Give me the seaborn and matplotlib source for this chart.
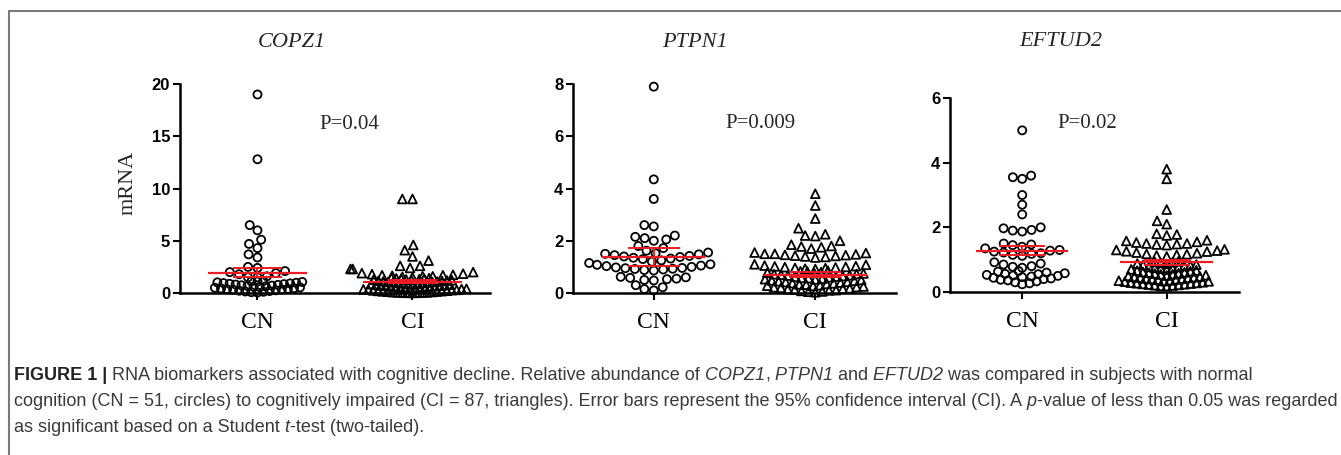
import numpy as np
import pandas as pd
import matplotlib
matplotlib.use('agg')
from matplotlib import pyplot as plt
from matplotlib.lines import Line2D
import seaborn as sns

genes = ['COPZ1', 'PTPN1', 'EFTUD2']
groups = ['CN', 'CI']
p_labels = ['P=0.04', 'P=0.009', 'P=0.02']
y_max = [20, 8, 6]
y_ticks = [[0, 5, 10, 15, 20], [0, 2, 4, 6, 8], [0, 2, 4, 6]]

# relative mRNA per subject (CN n=51, CI n=87)
copz1_cn = [19.0, 12.8, 6.5, 6.0, 5.1, 4.7, 4.3, 3.7, 3.4, 2.5, 2.4, 2.1, 2.0, 1.9, 1.8, 1.6, 1.5, 1.5,
            1.15, 1.12, 1.1, 1.06, 1.02, 0.98, 0.95, 0.92, 0.88, 0.85, 0.81, 0.78, 0.74, 0.71, 0.68,
            0.64, 0.6, 0.57, 0.54, 0.5, 0.46, 0.43, 0.4, 0.36, 0.33, 0.3, 0.26, 0.22, 0.19, 0.15,
            0.12, 0.08, 0.05]
copz1_ci = [9.0, 9.0, 4.6, 4.1, 3.5, 3.1, 2.6, 2.6, 2.4, 2.3, 2.3,
            2.0, 1.9, 1.85, 1.8, 1.75, 1.7, 1.7, 1.65, 1.6, 1.6, 1.55, 1.5,
            1.45, 1.42, 1.4, 1.38, 1.35, 1.32, 1.3, 1.28, 1.25, 1.22,
            1.2, 1.18, 1.15, 1.12, 1.1, 1.08, 1.05, 1.02, 1.0, 0.98,
            0.95, 0.92, 0.9, 0.88, 0.85, 0.82, 0.8, 0.78, 0.75, 0.72,
            0.7, 0.68, 0.65, 0.62, 0.6, 0.58, 0.55, 0.52, 0.5, 0.48,
            0.45, 0.42, 0.4, 0.38, 0.35, 0.32, 0.3, 0.28, 0.25, 0.22,
            0.2, 0.18, 0.16, 0.14, 0.12, 0.1, 0.08, 0.06, 0.05, 0.04,
            0.03, 0.02, 0.02, 0.01]
ptpn1_cn = [7.9, 4.35, 3.6, 2.6, 2.55, 2.2, 2.15, 2.1, 2.05, 2.0, 1.8, 1.72, 1.62,
            1.55, 1.52, 1.5, 1.48, 1.45, 1.42, 1.4, 1.38, 1.35, 1.32, 1.3,
            1.25, 1.2, 1.15,
            1.1, 1.08, 1.05, 1.03, 1.0, 0.98, 0.96, 0.95, 0.93, 0.92, 0.9, 0.88, 0.86,
            0.62, 0.6, 0.58, 0.55, 0.53, 0.5, 0.48,
            0.3, 0.22, 0.15, 0.1]
ptpn1_ci = [3.8, 3.35, 2.85, 2.48,
            2.25, 2.2, 2.18, 2.0,
            1.85, 1.8, 1.78, 1.75, 1.7,
            1.55, 1.53, 1.5, 1.5, 1.48, 1.46, 1.45, 1.43, 1.42, 1.4, 1.38, 1.36,
            1.1, 1.08, 1.05, 1.03, 1.02, 1.0, 0.99, 0.98, 0.96, 0.95, 0.93, 0.92,
            0.85, 0.83, 0.82, 0.8, 0.78, 0.77, 0.75, 0.73, 0.72, 0.7,
            0.68, 0.67, 0.65, 0.63, 0.62, 0.6, 0.58, 0.57, 0.55, 0.53,
            0.52, 0.5, 0.48, 0.47, 0.45, 0.43, 0.42, 0.4, 0.38, 0.37,
            0.35, 0.33, 0.32, 0.3, 0.28, 0.27, 0.25, 0.23, 0.22, 0.2,
            0.18, 0.16, 0.15, 0.13, 0.11, 0.1, 0.08, 0.06, 0.05, 0.03]
eftud2_cn = [5.0, 3.6, 3.55, 3.5, 3.0, 2.7, 2.4,
             2.0, 1.97, 1.92, 1.9, 1.87,
             1.5, 1.47, 1.45,
             1.4, 1.35, 1.3, 1.28, 1.25, 1.22, 1.2, 1.18, 1.15, 1.12,
             0.92, 0.88, 0.85, 0.8, 0.78, 0.75,
             0.65, 0.63, 0.6, 0.58, 0.56, 0.55, 0.53, 0.51, 0.5, 0.48,
             0.46, 0.44, 0.42, 0.4, 0.38, 0.36, 0.33, 0.3, 0.27, 0.24]
eftud2_ci = [3.8, 3.5, 2.55, 2.2, 2.1,
             1.8, 1.78, 1.75,
             1.6, 1.58, 1.55, 1.53, 1.5, 1.5, 1.48, 1.47, 1.45,
             1.32, 1.3, 1.28, 1.26, 1.25, 1.22, 1.2, 1.18, 1.17, 1.15, 1.13, 1.1,
             0.95, 0.93, 0.92, 0.9, 0.88, 0.87, 0.85, 0.83, 0.82, 0.8,
             0.78, 0.77, 0.75, 0.74, 0.72, 0.7, 0.69, 0.67, 0.66, 0.64,
             0.62, 0.61, 0.6, 0.58, 0.57, 0.55, 0.54, 0.52, 0.51, 0.5,
             0.48, 0.47, 0.46, 0.45, 0.44, 0.42, 0.41, 0.4, 0.39, 0.38,
             0.36, 0.35, 0.34, 0.33, 0.32, 0.3, 0.29, 0.28, 0.27, 0.26,
             0.25, 0.24, 0.23, 0.22, 0.21, 0.2, 0.19, 0.18]

# mean and 95% CI as drawn by the red bars (CN, CI)
mean_vals = {'COPZ1': [1.95, 1.1], 'PTPN1': [1.37, 0.69], 'EFTUD2': [1.28, 0.93]}
ci_low = {'COPZ1': [1.5, 0.98], 'PTPN1': [1.03, 0.6], 'EFTUD2': [1.15, 0.85]}
ci_high = {'COPZ1': [2.4, 1.22], 'PTPN1': [1.71, 0.79], 'EFTUD2': [1.42, 1.0]}

values = {'COPZ1': [copz1_cn, copz1_ci], 'PTPN1': [ptpn1_cn, ptpn1_ci],
          'EFTUD2': [eftud2_cn, eftud2_ci]}
rows = []
for gene in genes:
    for grp, vals in zip(groups, values[gene]):
        for v in vals:
            rows.append((gene, grp, v))
df = pd.DataFrame(rows, columns=['gene', 'group', 'mRNA'])

sns.set_style('ticks')
plt.rcParams['font.family'] = ['Liberation Sans', 'DejaVu Sans']

red = '#ec1c24'
serif = ['Liberation Serif', 'DejaVu Serif']
markers = ['o', '^']
marker_size = [5.8, 6.3]
# graphpad lets the crowded bottom of each column overlap: lay that part of
# the swarm out with a smaller footprint, then grow the markers back
dense_below = {'COPZ1': [1.2, 1.48], 'PTPN1': [0.0, 0.9], 'EFTUD2': [0.7, 1.0]}
dense_pack = {'COPZ1': [0.5, 0.33], 'PTPN1': [1.0, 0.55], 'EFTUD2': [0.65, 0.45]}
loose_pack = 0.9

fig = plt.figure(figsize=(13.41, 4.55), dpi=100)

rects = [[0.1342, 0.356, 0.2312, 0.4593],
         [0.4273, 0.356, 0.2409, 0.4593],
         [0.7084, 0.3582, 0.2155, 0.4264]]
title_pos = [(0.361, 1.20), (0.378, 1.20), (0.384, 1.29)]
p_pos = [(0.545, 0.804), (0.579, 0.813), (0.474, 0.871)]

swarms = []
for i, gene in enumerate(genes):
    ax = fig.add_axes(rects[i])
    sub = df[df.gene == gene]
    for j, grp in enumerate(groups):
        part = sub[sub.group == grp]
        cut = dense_below[gene][j]
        for piece, f in [(part[part.mRNA < cut], dense_pack[gene][j]),
                         (part[part.mRNA >= cut], loose_pack)]:
            if piece.empty:
                continue
            n0 = len(ax.collections)
            sns.swarmplot(data=piece, x='group', y='mRNA', order=groups,
                          marker=markers[j], size=marker_size[j] * f,
                          color='white', edgecolor='black', linewidth=1.3,
                          warn_thresh=1, ax=ax)
            for coll in ax.collections[n0:]:
                if len(coll.get_offsets()) > 0:
                    coll.set_facecolor('none')
                    coll.set_clip_on(False)
                    swarms.append((coll, f))

    for j in range(2):
        m = mean_vals[gene][j]
        lo = ci_low[gene][j]
        hi = ci_high[gene][j]
        ax.hlines(m, j - 0.32, j + 0.32, color=red, lw=1.6, zorder=6, clip_on=False)
        ax.hlines([lo, hi], j - 0.16, j + 0.16, color=red, lw=1.4, zorder=6, clip_on=False)
        ax.vlines(j, lo, hi, color=red, lw=1.4, zorder=6, clip_on=False)

    ax.set_xlim(-0.5, 1.5)
    ax.set_ylim(0, y_max[i])
    ax.set_yticks(y_ticks[i])
    ax.set_xlabel('')
    ax.set_ylabel('')
    sns.despine(ax=ax)
    for side in ['left', 'bottom']:
        ax.spines[side].set_linewidth(1.8)
        ax.spines[side].set_color('black')
    ax.tick_params(axis='y', length=5, width=1.5, pad=2, labelsize=12, colors='black')
    ax.tick_params(axis='x', length=5, width=1.5, pad=9, colors='black')
    for lab in ax.get_yticklabels():
        lab.set_fontweight('bold')
    for lab in ax.get_xticklabels():
        lab.set_family(serif)
        lab.set_fontsize(17)

    ax.text(title_pos[i][0], title_pos[i][1], gene, transform=ax.transAxes,
            ha='center', va='center', family=serif, style='italic', fontsize=16)
    ax.text(p_pos[i][0], p_pos[i][1], p_labels[i], transform=ax.transAxes,
            ha='center', va='center', family=serif, fontsize=15)
    if i == 0:
        ax.text(-0.168, 0.526, 'mRNA', transform=ax.transAxes, rotation=90,
                ha='center', va='center', family=serif, fontsize=16)

# layout pass for the swarms, then restore full marker size
fig.canvas.draw()
for coll, f in swarms:
    coll.set_sizes(coll.get_sizes() / f ** 2)
    if 'draw' in coll.__dict__:
        del coll.draw

# caption, pieced together so italic / bold runs sit inline
caption = [
    [('FIGURE 1 |', 'normal', 'bold'),
     (' RNA biomarkers associated with cognitive decline. Relative abundance of', 'normal', 'normal'),
     (' COPZ1', 'italic', 'normal'), (',', 'normal', 'normal'),
     (' PTPN1', 'italic', 'normal'), (' and', 'normal', 'normal'),
     (' EFTUD2', 'italic', 'normal'),
     (' was compared in subjects with normal', 'normal', 'normal')],
    [('cognition (CN = 51, circles) to cognitively impaired (CI = 87, triangles). '
      'Error bars represent the 95% confidence interval (CI). A', 'normal', 'normal'),
     (' p', 'italic', 'normal'),
     ('-value of less than 0.05 was regarded', 'normal', 'normal')],
    [('as significant based on a Student', 'normal', 'normal'),
     (' t', 'italic', 'normal'),
     ('-test (two-tailed).', 'normal', 'normal')],
]
cap_y = [380, 406, 432]
renderer = fig.canvas.get_renderer()
for segs, yy in zip(caption, cap_y):
    x = 14
    for txt, style, weight in segs:
        t = fig.text(x / 1341, 1 - yy / 455, txt, ha='left', va='baseline',
                     fontsize=13, style=style, weight=weight,
                     color='#222222' if weight == 'bold' else '#3a3a3a')
        x = t.get_window_extent(renderer).x1

# open frame: top and left rules
fig.add_artist(Line2D([9 / 1341, 9 / 1341], [0, 1 - 11 / 455], color='#7a7a7a', lw=1.5))
fig.add_artist(Line2D([9 / 1341, 1], [1 - 11 / 455, 1 - 11 / 455], color='#7a7a7a', lw=1.5))

fig.savefig('out.png', dpi=100)
